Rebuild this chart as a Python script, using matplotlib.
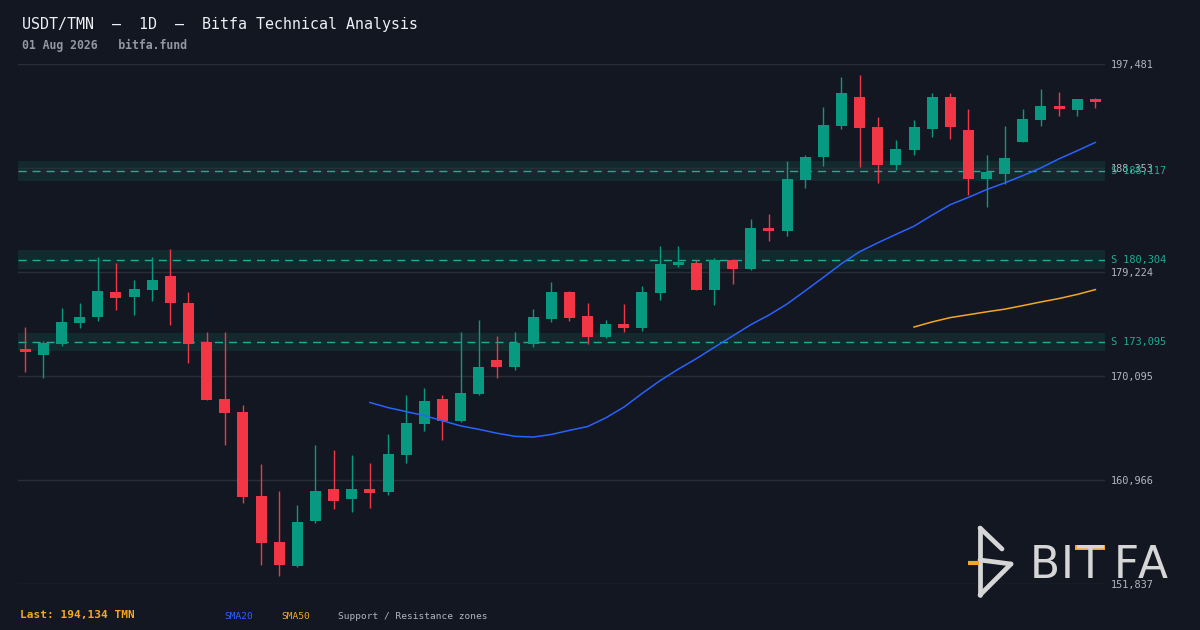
import numpy as np
import pandas as pd
import matplotlib
matplotlib.use("Agg")
import matplotlib.pyplot as plt
import matplotlib.transforms as mtransforms
from matplotlib.lines import Line2D
from matplotlib.patches import Rectangle

# daily candles, USDT/TMN
opens = [172465, 171964, 172930, 174773, 175300, 177468, 177055, 177670, 178872, 176502,
         173079, 168076, 166935, 159561, 155524, 153443, 157394, 160176, 159324, 160176,
         159939, 163187, 165908, 168076, 166171, 168541, 171499, 170911, 172930, 175124,
         177468, 175361, 173544, 174659, 174334, 177406, 179864, 180013, 177670, 180277,
         179513, 183086, 182849, 187325, 189344, 192065, 194584, 191951, 188642, 189959,
         191802, 194584, 191688, 187413, 187852, 190661, 192592, 193794, 193470, 194409]
highs = [174396, 173167, 176063, 176502, 180540, 180013, 178521, 180540, 181242, 177468,
         173957, 173957, 167549, 162370, 160000, 158771, 164038, 163599, 163160, 162458,
         165004, 168427, 169041, 168427, 173957, 175010, 173606, 173957, 175976, 178346,
         177550, 176502, 175010, 176415, 177995, 181506, 181506, 180277, 180452, 180364,
         183876, 184314, 188967, 189493, 193707, 196340, 196515, 192829, 190810, 192565,
         194935, 194935, 193531, 189493, 192039, 193531, 195287, 195023, 194409, 194497]
lows = [170472, 169945, 172754, 174334, 174949, 175914, 175475, 176704, 174598, 171262,
        167950, 164064, 158973, 153531, 152566, 153355, 157217, 158447, 158183, 158534,
        159676, 162484, 165293, 164477, 166083, 168453, 169945, 170648, 172667, 174861,
        174949, 172930, 173457, 173983, 174071, 176792, 179689, 177620, 176353, 178196,
        179425, 181971, 182410, 186623, 188554, 191802, 188466, 187062, 188203, 189520,
        191100, 190924, 186008, 184955, 186974, 190661, 192065, 192943, 192943, 193645]
closes = [172228, 172991, 174835, 175273, 177556, 176967, 177731, 178521, 176529, 172930,
          168014, 166873, 159500, 155462, 153531, 157279, 160000, 159148, 160176, 159851,
          163248, 165969, 167900, 166171, 168602, 170885, 170911, 172991, 175273, 177468,
          175212, 173544, 174659, 174334, 177468, 179926, 180101, 177670, 180277, 179513,
          183086, 182849, 187387, 189318, 192127, 194935, 191890, 188642, 190020, 191951,
          194584, 191977, 187413, 188027, 189230, 192653, 193794, 193557, 194409, 194134]

support_levels = [188117, 180304, 173095]
tick_labels = ['151,837', '160,966', '170,095', '179,224', '188,353', '197,481']
y_low, y_high = 151837, 197481.45

BG = '#131722'
UP = '#089981'
DOWN = '#f23645'
TEAL = '#22ab94'
ZONE = '#122a2e'
GRID = '#2a2e39'
BLUE = '#2962ff'
ORANGE = '#f5a623'
MONO = 'DejaVu Sans Mono'

W, H = 1200, 630
plt.rcParams['font.family'] = MONO

fig = plt.figure(figsize=(12, 6.3), dpi=100, facecolor=BG)
ax = fig.add_axes([18 / W, 46 / H, 1087 / W, 520 / H])
ax.set_facecolor(BG)
for s in ax.spines.values():
    s.set_visible(False)

df = pd.DataFrame({'open': opens, 'high': highs, 'low': lows, 'close': closes})
x = np.arange(len(df))
colors = np.where(df['close'] >= df['open'], UP, DOWN)

# grid
ticks = np.linspace(y_low, y_high, len(tick_labels))
for t in ticks:
    ax.axhline(t, color=GRID, lw=1, zorder=1)

# support / resistance zones
for lvl in support_levels:
    ax.axhspan(lvl * (1 - 0.0047), lvl * (1 + 0.0047), color=ZONE, lw=0, zorder=0.5)
    ax.axhline(lvl, color=TEAL, lw=1, ls=(0, (5.8, 4.3)), zorder=2)

# candles
ax.vlines(x, df['low'], df['high'], colors=colors, lw=1.0, zorder=3)
body_lo = np.minimum(df['open'], df['close'])
body_h = (df['close'] - df['open']).abs()
ax.bar(x, body_h, bottom=body_lo, width=0.606, color=colors, linewidth=0, zorder=4)

# moving averages
sma20 = df['close'].rolling(20).mean()
sma50 = df['close'].rolling(50).mean()
ax.plot(x, sma20, color=BLUE, lw=1.1, zorder=5)
ax.plot(x, sma50, color=ORANGE, lw=1.1, zorder=5)

ax.set_xlim(-0.40, 59.53)
ax.set_ylim(y_low, y_high)
ax.set_xticks([])
ax.yaxis.tick_right()
ax.set_yticks(ticks)
ax.set_yticklabels(tick_labels)
ax.tick_params(axis='y', length=0, pad=4.3, labelsize=7.4, labelcolor='#b2b5be')

trans = mtransforms.blended_transform_factory(ax.transAxes, ax.transData)
for lvl in support_levels:
    ax.text(1 + 6 / 1087, lvl, f"S {lvl:,}", transform=trans, color=TEAL,
            fontsize=7.4, va='center', ha='left', clip_on=False)

# header / footer
fig.text(22 / W, 1 - 29 / H, "USDT/TMN  \u2014  1D  \u2014  Bitfa Technical Analysis",
         fontsize=10.8, color='#eef0f5', va='baseline')
fig.text(22 / W, 1 - 49 / H, "01 Aug 2026   bitfa.fund",
         fontsize=8.3, color='#9598a1', weight='bold', va='baseline')
fig.text(20 / W, 1 - 618 / H, f"Last: {closes[-1]:,} TMN",
         fontsize=8.0, color=ORANGE, weight='bold', va='baseline')
fig.text(224 / W, 1 - 619 / H, "SMA20", fontsize=6.8, color=BLUE, va='baseline')
fig.text(281 / W, 1 - 619 / H, "SMA50", fontsize=6.8, color=ORANGE, va='baseline')
fig.text(338 / W, 1 - 619 / H, "Support / Resistance zones", fontsize=6.8,
         color='#b2b5be', va='baseline')


# logo
def px(xp, yp):
    return xp / W, 1 - yp / H


LOGO = '#d6d6d6'
for (x0, y0), (x1, y1) in [((980, 528), (980, 595)), ((980, 528), (1002, 549)),
                           ((980, 560), (1011, 564)), ((1011, 564), (980, 595))]:
    a, b = px(x0, y0)
    c, d = px(x1, y1)
    fig.add_artist(Line2D([a, c], [b, d], color=LOGO, lw=3.4, solid_capstyle='round'))
a, b = px(968, 563)
c, d = px(979, 563)
fig.add_artist(Line2D([a, c], [b, d], color=ORANGE, lw=3.0, solid_capstyle='butt'))

for ch, cx in [('B', 1045), ('I', 1067), ('T', 1090), ('F', 1126), ('A', 1153)]:
    fx, fy = px(cx, 578)
    fig.text(fx, fy, ch, fontsize=31.6, family='DejaVu Sans', color=LOGO,
             ha='center', va='baseline')
fig.add_artist(Rectangle(px(1075, 550), 30 / W, 5 / H, transform=fig.transFigure,
                         color=ORANGE, lw=0))

fig.savefig('out.png', dpi=100, facecolor=BG)
